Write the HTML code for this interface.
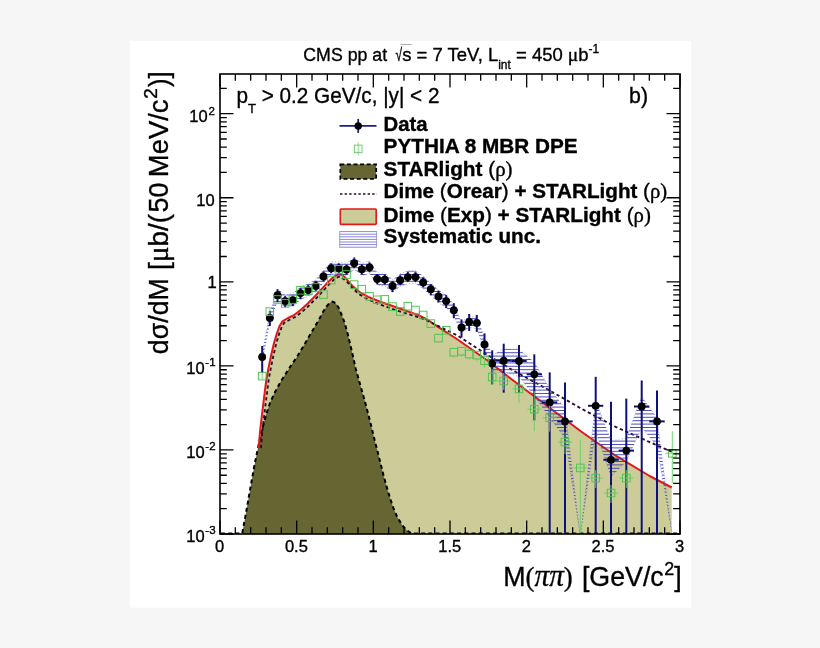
<!DOCTYPE html>
<html><head><meta charset="utf-8"><title>CMS pp at 7 TeV</title>
<style>html,body{margin:0;padding:0}body{width:820px;height:648px;background:#f6f6f6;overflow:hidden;position:relative}svg{position:absolute;left:0;top:0;display:block}text{font-family:"Liberation Sans", sans-serif;fill:#000;stroke:#000;stroke-width:0.35px}.g{font-family:"Liberation Serif", serif}</style></head><body>
<svg width="820" height="648" viewBox="0 0 820 648">
<defs><clipPath id="fr"><rect x="220" y="74" width="460" height="460"/></clipPath>
<clipPath id="band"><polygon points="262.2,352.5 269.8,313.5 277.5,288.9 285.2,294.8 292.8,293.8 300.5,286.8 308.2,283.8 315.8,279.6 323.5,270.2 331.2,262.0 338.8,262.0 346.5,263.2 354.2,256.9 361.8,263.0 369.5,261.0 377.2,272.7 384.8,273.3 392.5,279.7 400.2,273.9 407.8,270.8 415.5,270.8 423.2,276.1 430.8,282.9 438.5,290.2 446.2,294.8 453.8,304.7 461.5,321.9 469.2,316.5 476.8,317.4 484.5,337.4 492.2,354.9 503.7,349.0 519.0,349.3 534.3,362.3 549.7,388.4 565.0,408.4 580.3,536.0 595.7,400.8 611.0,440.8 626.3,438.1 641.7,396.5 657.0,417.9 672.3,536.0 672.3,536.0 657.0,446.4 641.7,427.5 626.3,461.6 611.0,476.8 595.7,431.8 580.3,536.0 565.0,438.4 549.7,417.4 534.3,396.3 519.0,376.5 503.7,372.2 492.2,371.9 484.5,351.4 476.8,328.4 469.2,327.5 461.5,332.9 453.8,315.7 446.2,307.4 438.5,302.8 430.8,295.5 423.2,288.7 415.5,283.4 407.8,283.4 400.2,286.5 392.5,292.3 384.8,285.9 377.2,285.3 369.5,273.6 361.8,275.6 354.2,269.5 346.5,275.8 338.8,274.6 331.2,274.6 323.5,282.8 315.8,292.2 308.2,296.4 300.5,299.4 292.8,306.4 285.2,307.4 277.5,301.5 269.8,322.5 262.2,361.5"/></clipPath>
</defs>
<rect x="130" y="41" width="561" height="566.7" fill="#fff"/>
<g clip-path="url(#fr)">
<polygon points="258.6,534.0 258.6,448.0 260.0,432.0 261.7,417.0 264.0,398.0 266.3,380.0 268.5,368.0 271.0,356.0 274.0,343.0 277.0,333.0 279.6,326.0 282.4,321.3 288.0,318.0 294.4,314.8 300.0,310.5 305.6,305.6 311.0,300.2 316.7,294.4 322.0,288.6 327.8,282.4 332.0,278.3 335.2,276.0 338.0,274.6 340.5,274.2 342.5,275.0 344.4,276.9 347.0,279.6 350.0,283.3 353.0,286.5 356.6,289.6 360.0,292.3 368.3,296.8 379.5,301.5 399.0,308.3 418.5,315.1 428.0,320.0 438.0,326.8 457.6,339.5 477.1,353.2 486.8,360.0 513.9,381.0 547.9,406.5 581.8,432.0 615.7,455.7 649.6,476.0 671.7,487.5 671.7,534.0" fill="#cccc99"/>
<polygon points="242.2,534.0 246.0,513.0 250.9,485.0 254.5,465.0 258.6,445.0 262.5,428.0 266.3,414.0 270.0,403.0 274.0,394.0 278.0,386.5 281.7,380.0 290.7,366.0 297.2,356.5 305.6,342.6 312.0,331.5 318.5,320.4 323.0,312.0 326.5,306.5 329.5,303.0 332.6,301.6 335.5,303.0 338.5,307.5 341.5,314.5 344.4,322.0 348.0,335.0 352.0,352.0 355.8,369.0 360.0,384.0 365.0,401.7 370.0,421.0 374.3,438.8 379.0,457.0 383.6,475.8 388.0,491.5 392.8,506.7 397.0,516.5 402.1,525.0 406.5,530.0 411.4,534.0" fill="#666633"/>
<polyline points="221.0,533.4 242.2,533.4 246.0,513.0 250.9,485.0 254.5,465.0 258.6,445.0 262.5,428.0 266.3,414.0 270.0,403.0 274.0,394.0 278.0,386.5 281.7,380.0 290.7,366.0 297.2,356.5 305.6,342.6 312.0,331.5 318.5,320.4 323.0,312.0 326.5,306.5 329.5,303.0 332.6,301.6 335.5,303.0 338.5,307.5 341.5,314.5 344.4,322.0 348.0,335.0 352.0,352.0 355.8,369.0 360.0,384.0 365.0,401.7 370.0,421.0 374.3,438.8 379.0,457.0 383.6,475.8 388.0,491.5 392.8,506.7 397.0,516.5 402.1,525.0 406.5,530.0 411.4,533.4 679.0,533.4" fill="none" stroke="#000" stroke-width="2" stroke-dasharray="4 3.2"/>
<polyline points="258.6,448.0 260.0,432.0 261.7,417.0 264.0,398.0 266.3,380.0 268.5,368.0 271.0,356.0 274.0,343.0 277.0,333.0 279.6,326.0 282.4,321.3 288.0,318.0 294.4,314.8 300.0,310.5 305.6,305.6 311.0,300.2 316.7,294.4 322.0,288.6 327.8,282.4 332.0,278.3 335.2,276.0 338.0,274.6 340.5,274.2 342.5,275.0 344.4,276.9 347.0,279.6 350.0,283.3 353.0,286.5 356.6,289.6 360.0,292.3 368.3,296.8 379.5,301.5 399.0,308.3 418.5,315.1 428.0,320.0 438.0,326.8 457.6,339.5 477.1,353.2 486.8,360.0 513.9,381.0 547.9,406.5 581.8,432.0 615.7,455.7 649.6,476.0 671.7,487.5" fill="none" stroke="#e01818" stroke-width="2" stroke-linejoin="round"/>
<polyline points="260.9,448.2 262.3,432.2 264.0,417.3 266.3,398.3 268.6,380.3 270.8,368.4 273.2,356.5 276.2,343.6 279.2,333.7 281.7,327.0 284.0,323.0 289.1,320.0 295.6,316.8 301.5,312.3 307.2,307.3 312.6,301.8 318.4,296.0 323.7,290.2 329.5,284.0 333.5,280.0 336.4,278.0 338.7,276.8 340.3,276.5 341.2,276.9 342.8,278.5 347.0,281.8 350.0,285.5 353.0,288.8 356.6,292.0 360.0,294.8 368.3,299.6 379.5,304.4 399.0,311.2 418.5,317.1 428.0,321.0 438.0,325.9 457.6,335.6 477.1,348.3 486.8,354.6 513.9,370.9 547.9,389.5 581.8,408.9 615.7,426.9 649.6,442.1 671.7,451.8" fill="none" stroke="#2c082e" stroke-width="1.8" stroke-dasharray="3.3 2.7"/>
<g clip-path="url(#band)" stroke="#3a3ab0" stroke-width="0.9">
<line x1="255" x2="676" y1="240.5" y2="240.5"/>
<line x1="255" x2="676" y1="243.9" y2="243.9"/>
<line x1="255" x2="676" y1="247.3" y2="247.3"/>
<line x1="255" x2="676" y1="250.7" y2="250.7"/>
<line x1="255" x2="676" y1="254.1" y2="254.1"/>
<line x1="255" x2="676" y1="257.5" y2="257.5"/>
<line x1="255" x2="676" y1="260.9" y2="260.9"/>
<line x1="255" x2="676" y1="264.3" y2="264.3"/>
<line x1="255" x2="676" y1="267.7" y2="267.7"/>
<line x1="255" x2="676" y1="271.1" y2="271.1"/>
<line x1="255" x2="676" y1="274.5" y2="274.5"/>
<line x1="255" x2="676" y1="277.9" y2="277.9"/>
<line x1="255" x2="676" y1="281.3" y2="281.3"/>
<line x1="255" x2="676" y1="284.7" y2="284.7"/>
<line x1="255" x2="676" y1="288.1" y2="288.1"/>
<line x1="255" x2="676" y1="291.5" y2="291.5"/>
<line x1="255" x2="676" y1="294.9" y2="294.9"/>
<line x1="255" x2="676" y1="298.3" y2="298.3"/>
<line x1="255" x2="676" y1="301.7" y2="301.7"/>
<line x1="255" x2="676" y1="305.1" y2="305.1"/>
<line x1="255" x2="676" y1="308.5" y2="308.5"/>
<line x1="255" x2="676" y1="311.9" y2="311.9"/>
<line x1="255" x2="676" y1="315.3" y2="315.3"/>
<line x1="255" x2="676" y1="318.7" y2="318.7"/>
<line x1="255" x2="676" y1="322.1" y2="322.1"/>
<line x1="255" x2="676" y1="325.5" y2="325.5"/>
<line x1="255" x2="676" y1="328.9" y2="328.9"/>
<line x1="255" x2="676" y1="332.3" y2="332.3"/>
<line x1="255" x2="676" y1="335.7" y2="335.7"/>
<line x1="255" x2="676" y1="339.1" y2="339.1"/>
<line x1="255" x2="676" y1="342.5" y2="342.5"/>
<line x1="255" x2="676" y1="345.9" y2="345.9"/>
<line x1="255" x2="676" y1="349.3" y2="349.3"/>
<line x1="255" x2="676" y1="352.7" y2="352.7"/>
<line x1="255" x2="676" y1="356.1" y2="356.1"/>
<line x1="255" x2="676" y1="359.5" y2="359.5"/>
<line x1="255" x2="676" y1="362.9" y2="362.9"/>
<line x1="255" x2="676" y1="366.3" y2="366.3"/>
<line x1="255" x2="676" y1="369.7" y2="369.7"/>
<line x1="255" x2="676" y1="373.1" y2="373.1"/>
<line x1="255" x2="676" y1="376.5" y2="376.5"/>
<line x1="255" x2="676" y1="379.9" y2="379.9"/>
<line x1="255" x2="676" y1="383.3" y2="383.3"/>
<line x1="255" x2="676" y1="386.7" y2="386.7"/>
<line x1="255" x2="676" y1="390.1" y2="390.1"/>
<line x1="255" x2="676" y1="393.5" y2="393.5"/>
<line x1="255" x2="676" y1="396.9" y2="396.9"/>
<line x1="255" x2="676" y1="400.3" y2="400.3"/>
<line x1="255" x2="676" y1="403.7" y2="403.7"/>
<line x1="255" x2="676" y1="407.1" y2="407.1"/>
<line x1="255" x2="676" y1="410.5" y2="410.5"/>
<line x1="255" x2="676" y1="413.9" y2="413.9"/>
<line x1="255" x2="676" y1="417.3" y2="417.3"/>
<line x1="255" x2="676" y1="420.7" y2="420.7"/>
<line x1="255" x2="676" y1="424.1" y2="424.1"/>
<line x1="255" x2="676" y1="427.5" y2="427.5"/>
<line x1="255" x2="676" y1="430.9" y2="430.9"/>
<line x1="255" x2="676" y1="434.3" y2="434.3"/>
<line x1="255" x2="676" y1="437.7" y2="437.7"/>
<line x1="255" x2="676" y1="441.1" y2="441.1"/>
<line x1="255" x2="676" y1="444.5" y2="444.5"/>
<line x1="255" x2="676" y1="447.9" y2="447.9"/>
<line x1="255" x2="676" y1="451.3" y2="451.3"/>
<line x1="255" x2="676" y1="454.7" y2="454.7"/>
<line x1="255" x2="676" y1="458.1" y2="458.1"/>
<line x1="255" x2="676" y1="461.5" y2="461.5"/>
<line x1="255" x2="676" y1="464.9" y2="464.9"/>
<line x1="255" x2="676" y1="468.3" y2="468.3"/>
<line x1="255" x2="676" y1="471.7" y2="471.7"/>
<line x1="255" x2="676" y1="475.1" y2="475.1"/>
<line x1="255" x2="676" y1="478.5" y2="478.5"/>
<line x1="255" x2="676" y1="481.9" y2="481.9"/>
<line x1="255" x2="676" y1="485.3" y2="485.3"/>
<line x1="255" x2="676" y1="488.7" y2="488.7"/>
<line x1="255" x2="676" y1="492.1" y2="492.1"/>
<line x1="255" x2="676" y1="495.5" y2="495.5"/>
<line x1="255" x2="676" y1="498.9" y2="498.9"/>
<line x1="255" x2="676" y1="502.3" y2="502.3"/>
<line x1="255" x2="676" y1="505.7" y2="505.7"/>
<line x1="255" x2="676" y1="509.1" y2="509.1"/>
<line x1="255" x2="676" y1="512.5" y2="512.5"/>
<line x1="255" x2="676" y1="515.9" y2="515.9"/>
<line x1="255" x2="676" y1="519.3" y2="519.3"/>
<line x1="255" x2="676" y1="522.7" y2="522.7"/>
<line x1="255" x2="676" y1="526.1" y2="526.1"/>
<line x1="255" x2="676" y1="529.5" y2="529.5"/>
<line x1="255" x2="676" y1="532.9" y2="532.9"/>
<line x1="255" x2="676" y1="536.3" y2="536.3"/>
<line x1="255" x2="676" y1="539.7" y2="539.7"/>
</g>
<polyline points="262.2,352.5 269.8,313.5 277.5,288.9 285.2,294.8 292.8,293.8 300.5,286.8 308.2,283.8 315.8,279.6 323.5,270.2 331.2,262.0 338.8,262.0 346.5,263.2 354.2,256.9 361.8,263.0 369.5,261.0 377.2,272.7 384.8,273.3 392.5,279.7 400.2,273.9 407.8,270.8 415.5,270.8 423.2,276.1 430.8,282.9 438.5,290.2 446.2,294.8 453.8,304.7 461.5,321.9 469.2,316.5 476.8,317.4 484.5,337.4 492.2,354.9 503.7,349.0 519.0,349.3 534.3,362.3 549.7,388.4 565.0,408.4 580.3,536.0 595.7,400.8 611.0,440.8 626.3,438.1 641.7,396.5 657.0,417.9 672.3,536.0" fill="none" stroke="#6868c8" stroke-opacity="0.75" stroke-width="0.7" stroke-dasharray="1 2.2"/>
<polyline points="262.2,361.5 269.8,322.5 277.5,301.5 285.2,307.4 292.8,306.4 300.5,299.4 308.2,296.4 315.8,292.2 323.5,282.8 331.2,274.6 338.8,274.6 346.5,275.8 354.2,269.5 361.8,275.6 369.5,273.6 377.2,285.3 384.8,285.9 392.5,292.3 400.2,286.5 407.8,283.4 415.5,283.4 423.2,288.7 430.8,295.5 438.5,302.8 446.2,307.4 453.8,315.7 461.5,332.9 469.2,327.5 476.8,328.4 484.5,351.4 492.2,371.9 503.7,372.2 519.0,376.5 534.3,396.3 549.7,417.4 565.0,438.4 580.3,536.0 595.7,431.8 611.0,476.8 626.3,461.6 641.7,427.5 657.0,446.4 672.3,536.0" fill="none" stroke="#6868c8" stroke-opacity="0.75" stroke-width="0.7" stroke-dasharray="1 2.2"/>
<line x1="262.2" x2="262.2" y1="346.0" y2="373.0" stroke="#10107a" stroke-width="2"/>
<line x1="258.3" x2="266.0" y1="357.0" y2="357.0" stroke="#10107a" stroke-width="2"/>
<line x1="269.8" x2="269.8" y1="311.0" y2="326.0" stroke="#10107a" stroke-width="2"/>
<line x1="266.0" x2="273.7" y1="318.0" y2="318.0" stroke="#10107a" stroke-width="2"/>
<line x1="277.5" x2="277.5" y1="289.2" y2="302.2" stroke="#10107a" stroke-width="2"/>
<line x1="273.7" x2="281.3" y1="295.2" y2="295.2" stroke="#10107a" stroke-width="2"/>
<line x1="285.2" x2="285.2" y1="296.1" y2="307.1" stroke="#10107a" stroke-width="2"/>
<line x1="281.3" x2="289.0" y1="301.1" y2="301.1" stroke="#10107a" stroke-width="2"/>
<line x1="292.8" x2="292.8" y1="295.1" y2="306.1" stroke="#10107a" stroke-width="2"/>
<line x1="289.0" x2="296.7" y1="300.1" y2="300.1" stroke="#10107a" stroke-width="2"/>
<line x1="300.5" x2="300.5" y1="288.1" y2="299.1" stroke="#10107a" stroke-width="2"/>
<line x1="296.7" x2="304.3" y1="293.1" y2="293.1" stroke="#10107a" stroke-width="2"/>
<line x1="308.2" x2="308.2" y1="285.1" y2="295.1" stroke="#10107a" stroke-width="2"/>
<line x1="304.3" x2="312.0" y1="290.1" y2="290.1" stroke="#10107a" stroke-width="2"/>
<line x1="315.8" x2="315.8" y1="280.9" y2="290.9" stroke="#10107a" stroke-width="2"/>
<line x1="312.0" x2="319.7" y1="285.9" y2="285.9" stroke="#10107a" stroke-width="2"/>
<line x1="323.5" x2="323.5" y1="271.5" y2="281.5" stroke="#10107a" stroke-width="2"/>
<line x1="319.7" x2="327.3" y1="276.5" y2="276.5" stroke="#10107a" stroke-width="2"/>
<line x1="331.2" x2="331.2" y1="263.3" y2="273.3" stroke="#10107a" stroke-width="2"/>
<line x1="327.3" x2="335.0" y1="268.3" y2="268.3" stroke="#10107a" stroke-width="2"/>
<line x1="338.8" x2="338.8" y1="263.3" y2="273.3" stroke="#10107a" stroke-width="2"/>
<line x1="335.0" x2="342.7" y1="268.3" y2="268.3" stroke="#10107a" stroke-width="2"/>
<line x1="346.5" x2="346.5" y1="264.5" y2="274.5" stroke="#10107a" stroke-width="2"/>
<line x1="342.7" x2="350.3" y1="269.5" y2="269.5" stroke="#10107a" stroke-width="2"/>
<line x1="354.2" x2="354.2" y1="258.2" y2="268.2" stroke="#10107a" stroke-width="2"/>
<line x1="350.3" x2="358.0" y1="263.2" y2="263.2" stroke="#10107a" stroke-width="2"/>
<line x1="361.8" x2="361.8" y1="264.3" y2="274.3" stroke="#10107a" stroke-width="2"/>
<line x1="358.0" x2="365.7" y1="269.3" y2="269.3" stroke="#10107a" stroke-width="2"/>
<line x1="369.5" x2="369.5" y1="262.3" y2="272.3" stroke="#10107a" stroke-width="2"/>
<line x1="365.7" x2="373.3" y1="267.3" y2="267.3" stroke="#10107a" stroke-width="2"/>
<line x1="377.2" x2="377.2" y1="274.0" y2="284.0" stroke="#10107a" stroke-width="2"/>
<line x1="373.3" x2="381.0" y1="279.0" y2="279.0" stroke="#10107a" stroke-width="2"/>
<line x1="384.8" x2="384.8" y1="274.6" y2="284.6" stroke="#10107a" stroke-width="2"/>
<line x1="381.0" x2="388.7" y1="279.6" y2="279.6" stroke="#10107a" stroke-width="2"/>
<line x1="392.5" x2="392.5" y1="281.0" y2="292.0" stroke="#10107a" stroke-width="2"/>
<line x1="388.7" x2="396.3" y1="286.0" y2="286.0" stroke="#10107a" stroke-width="2"/>
<line x1="400.2" x2="400.2" y1="275.2" y2="285.2" stroke="#10107a" stroke-width="2"/>
<line x1="396.3" x2="404.0" y1="280.2" y2="280.2" stroke="#10107a" stroke-width="2"/>
<line x1="407.8" x2="407.8" y1="272.1" y2="282.1" stroke="#10107a" stroke-width="2"/>
<line x1="404.0" x2="411.7" y1="277.1" y2="277.1" stroke="#10107a" stroke-width="2"/>
<line x1="415.5" x2="415.5" y1="272.1" y2="282.1" stroke="#10107a" stroke-width="2"/>
<line x1="411.7" x2="419.3" y1="277.1" y2="277.1" stroke="#10107a" stroke-width="2"/>
<line x1="423.2" x2="423.2" y1="277.4" y2="287.4" stroke="#10107a" stroke-width="2"/>
<line x1="419.3" x2="427.0" y1="282.4" y2="282.4" stroke="#10107a" stroke-width="2"/>
<line x1="430.8" x2="430.8" y1="284.2" y2="295.2" stroke="#10107a" stroke-width="2"/>
<line x1="427.0" x2="434.7" y1="289.2" y2="289.2" stroke="#10107a" stroke-width="2"/>
<line x1="438.5" x2="438.5" y1="290.5" y2="302.5" stroke="#10107a" stroke-width="2"/>
<line x1="434.7" x2="442.3" y1="296.5" y2="296.5" stroke="#10107a" stroke-width="2"/>
<line x1="446.2" x2="446.2" y1="295.1" y2="308.1" stroke="#10107a" stroke-width="2"/>
<line x1="442.3" x2="450.0" y1="301.1" y2="301.1" stroke="#10107a" stroke-width="2"/>
<line x1="453.8" x2="453.8" y1="303.2" y2="318.2" stroke="#10107a" stroke-width="2"/>
<line x1="450.0" x2="457.7" y1="310.2" y2="310.2" stroke="#10107a" stroke-width="2"/>
<line x1="461.5" x2="461.5" y1="319.4" y2="337.4" stroke="#10107a" stroke-width="2"/>
<line x1="457.7" x2="465.3" y1="327.4" y2="327.4" stroke="#10107a" stroke-width="2"/>
<line x1="469.2" x2="469.2" y1="314.0" y2="331.0" stroke="#10107a" stroke-width="2"/>
<line x1="465.3" x2="473.0" y1="322.0" y2="322.0" stroke="#10107a" stroke-width="2"/>
<line x1="476.8" x2="476.8" y1="314.9" y2="331.9" stroke="#10107a" stroke-width="2"/>
<line x1="473.0" x2="480.7" y1="322.9" y2="322.9" stroke="#10107a" stroke-width="2"/>
<line x1="484.5" x2="484.5" y1="333.4" y2="355.4" stroke="#10107a" stroke-width="2"/>
<line x1="480.7" x2="488.3" y1="344.4" y2="344.4" stroke="#10107a" stroke-width="2"/>
<line x1="492.2" x2="492.2" y1="350.4" y2="384.4" stroke="#10107a" stroke-width="2"/>
<line x1="488.3" x2="496.0" y1="363.4" y2="363.4" stroke="#10107a" stroke-width="2"/>
<line x1="503.7" x2="503.7" y1="343.7" y2="392.7" stroke="#10107a" stroke-width="2"/>
<line x1="496.0" x2="511.3" y1="360.7" y2="360.7" stroke="#10107a" stroke-width="2"/>
<line x1="519.0" x2="519.0" y1="345.0" y2="393.0" stroke="#10107a" stroke-width="2"/>
<line x1="511.3" x2="526.7" y1="361.0" y2="361.0" stroke="#10107a" stroke-width="2"/>
<line x1="534.3" x2="534.3" y1="354.3" y2="420.3" stroke="#10107a" stroke-width="2"/>
<line x1="526.7" x2="542.0" y1="374.3" y2="374.3" stroke="#10107a" stroke-width="2"/>
<line x1="549.7" x2="549.7" y1="372.4" y2="534.0" stroke="#10107a" stroke-width="2"/>
<line x1="542.0" x2="557.3" y1="402.4" y2="402.4" stroke="#10107a" stroke-width="2"/>
<line x1="565.0" x2="565.0" y1="382.4" y2="534.0" stroke="#10107a" stroke-width="2"/>
<line x1="557.3" x2="572.7" y1="421.4" y2="421.4" stroke="#10107a" stroke-width="2"/>
<line x1="595.7" x2="595.7" y1="376.8" y2="534.0" stroke="#10107a" stroke-width="2"/>
<line x1="588.0" x2="603.3" y1="405.8" y2="405.8" stroke="#10107a" stroke-width="2"/>
<line x1="611.0" x2="611.0" y1="401.8" y2="534.0" stroke="#10107a" stroke-width="2"/>
<line x1="603.3" x2="618.7" y1="459.8" y2="459.8" stroke="#10107a" stroke-width="2"/>
<line x1="626.3" x2="626.3" y1="398.6" y2="534.0" stroke="#10107a" stroke-width="2"/>
<line x1="618.7" x2="634.0" y1="450.6" y2="450.6" stroke="#10107a" stroke-width="2"/>
<line x1="641.7" x2="641.7" y1="380.5" y2="534.0" stroke="#10107a" stroke-width="2"/>
<line x1="634.0" x2="649.3" y1="406.5" y2="406.5" stroke="#10107a" stroke-width="2"/>
<line x1="657.0" x2="657.0" y1="390.4" y2="534.0" stroke="#10107a" stroke-width="2"/>
<line x1="649.3" x2="664.7" y1="421.4" y2="421.4" stroke="#10107a" stroke-width="2"/>
<circle cx="262.2" cy="357.0" r="3.9" fill="#000"/>
<circle cx="269.8" cy="318.0" r="3.9" fill="#000"/>
<circle cx="277.5" cy="295.2" r="3.9" fill="#000"/>
<circle cx="285.2" cy="301.1" r="3.9" fill="#000"/>
<circle cx="292.8" cy="300.1" r="3.9" fill="#000"/>
<circle cx="300.5" cy="293.1" r="3.9" fill="#000"/>
<circle cx="308.2" cy="290.1" r="3.9" fill="#000"/>
<circle cx="315.8" cy="285.9" r="3.9" fill="#000"/>
<circle cx="323.5" cy="276.5" r="3.9" fill="#000"/>
<circle cx="331.2" cy="268.3" r="3.9" fill="#000"/>
<circle cx="338.8" cy="268.3" r="3.9" fill="#000"/>
<circle cx="346.5" cy="269.5" r="3.9" fill="#000"/>
<circle cx="354.2" cy="263.2" r="3.9" fill="#000"/>
<circle cx="361.8" cy="269.3" r="3.9" fill="#000"/>
<circle cx="369.5" cy="267.3" r="3.9" fill="#000"/>
<circle cx="377.2" cy="279.0" r="3.9" fill="#000"/>
<circle cx="384.8" cy="279.6" r="3.9" fill="#000"/>
<circle cx="392.5" cy="286.0" r="3.9" fill="#000"/>
<circle cx="400.2" cy="280.2" r="3.9" fill="#000"/>
<circle cx="407.8" cy="277.1" r="3.9" fill="#000"/>
<circle cx="415.5" cy="277.1" r="3.9" fill="#000"/>
<circle cx="423.2" cy="282.4" r="3.9" fill="#000"/>
<circle cx="430.8" cy="289.2" r="3.9" fill="#000"/>
<circle cx="438.5" cy="296.5" r="3.9" fill="#000"/>
<circle cx="446.2" cy="301.1" r="3.9" fill="#000"/>
<circle cx="453.8" cy="310.2" r="3.9" fill="#000"/>
<circle cx="461.5" cy="327.4" r="3.9" fill="#000"/>
<circle cx="469.2" cy="322.0" r="3.9" fill="#000"/>
<circle cx="476.8" cy="322.9" r="3.9" fill="#000"/>
<circle cx="484.5" cy="344.4" r="3.9" fill="#000"/>
<circle cx="492.2" cy="363.4" r="3.9" fill="#000"/>
<circle cx="503.7" cy="360.7" r="3.9" fill="#000"/>
<circle cx="519.0" cy="361.0" r="3.9" fill="#000"/>
<circle cx="534.3" cy="374.3" r="3.9" fill="#000"/>
<circle cx="549.7" cy="402.4" r="3.9" fill="#000"/>
<circle cx="565.0" cy="421.4" r="3.9" fill="#000"/>
<circle cx="595.7" cy="405.8" r="3.9" fill="#000"/>
<circle cx="611.0" cy="459.8" r="3.9" fill="#000"/>
<circle cx="626.3" cy="450.6" r="3.9" fill="#000"/>
<circle cx="641.7" cy="406.5" r="3.9" fill="#000"/>
<circle cx="657.0" cy="421.4" r="3.9" fill="#000"/>
<line x1="262.2" x2="262.2" y1="373.1" y2="379.1" stroke="#66d066" stroke-width="0.9"/>
<rect x="258.4" y="372.3" width="7.6" height="7.6" fill="none" stroke="#4cc44c" stroke-width="0.95"/>
<line x1="269.8" x2="269.8" y1="308.6" y2="314.6" stroke="#66d066" stroke-width="0.9"/>
<rect x="266.0" y="307.8" width="7.6" height="7.6" fill="none" stroke="#4cc44c" stroke-width="0.95"/>
<rect x="273.7" y="295.7" width="7.6" height="7.6" fill="none" stroke="#4cc44c" stroke-width="0.95"/>
<rect x="281.4" y="299.6" width="7.6" height="7.6" fill="none" stroke="#4cc44c" stroke-width="0.95"/>
<rect x="289.0" y="295.7" width="7.6" height="7.6" fill="none" stroke="#4cc44c" stroke-width="0.95"/>
<rect x="296.7" y="286.5" width="7.6" height="7.6" fill="none" stroke="#4cc44c" stroke-width="0.95"/>
<rect x="304.4" y="287.2" width="7.6" height="7.6" fill="none" stroke="#4cc44c" stroke-width="0.95"/>
<rect x="312.0" y="283.7" width="7.6" height="7.6" fill="none" stroke="#4cc44c" stroke-width="0.95"/>
<rect x="319.7" y="290.8" width="7.6" height="7.6" fill="none" stroke="#4cc44c" stroke-width="0.95"/>
<rect x="327.4" y="276.2" width="7.6" height="7.6" fill="none" stroke="#4cc44c" stroke-width="0.95"/>
<rect x="335.0" y="265.5" width="7.6" height="7.6" fill="none" stroke="#4cc44c" stroke-width="0.95"/>
<rect x="342.7" y="270.7" width="7.6" height="7.6" fill="none" stroke="#4cc44c" stroke-width="0.95"/>
<rect x="350.4" y="280.8" width="7.6" height="7.6" fill="none" stroke="#4cc44c" stroke-width="0.95"/>
<rect x="358.0" y="285.4" width="7.6" height="7.6" fill="none" stroke="#4cc44c" stroke-width="0.95"/>
<rect x="365.7" y="292.6" width="7.6" height="7.6" fill="none" stroke="#4cc44c" stroke-width="0.95"/>
<rect x="373.4" y="296.0" width="7.6" height="7.6" fill="none" stroke="#4cc44c" stroke-width="0.95"/>
<rect x="381.0" y="295.6" width="7.6" height="7.6" fill="none" stroke="#4cc44c" stroke-width="0.95"/>
<rect x="388.7" y="302.8" width="7.6" height="7.6" fill="none" stroke="#4cc44c" stroke-width="0.95"/>
<rect x="396.4" y="307.7" width="7.6" height="7.6" fill="none" stroke="#4cc44c" stroke-width="0.95"/>
<rect x="404.0" y="302.4" width="7.6" height="7.6" fill="none" stroke="#4cc44c" stroke-width="0.95"/>
<rect x="411.7" y="306.2" width="7.6" height="7.6" fill="none" stroke="#4cc44c" stroke-width="0.95"/>
<rect x="419.4" y="311.2" width="7.6" height="7.6" fill="none" stroke="#4cc44c" stroke-width="0.95"/>
<rect x="427.0" y="319.8" width="7.6" height="7.6" fill="none" stroke="#4cc44c" stroke-width="0.95"/>
<rect x="434.7" y="334.3" width="7.6" height="7.6" fill="none" stroke="#4cc44c" stroke-width="0.95"/>
<rect x="442.4" y="326.5" width="7.6" height="7.6" fill="none" stroke="#4cc44c" stroke-width="0.95"/>
<line x1="453.8" x2="453.8" y1="356.0" y2="357.7" stroke="#66d066" stroke-width="0.9"/>
<rect x="450.0" y="348.4" width="7.6" height="7.6" fill="none" stroke="#4cc44c" stroke-width="0.95"/>
<line x1="461.5" x2="461.5" y1="355.0" y2="356.7" stroke="#66d066" stroke-width="0.9"/>
<rect x="457.7" y="347.4" width="7.6" height="7.6" fill="none" stroke="#4cc44c" stroke-width="0.95"/>
<line x1="469.2" x2="469.2" y1="357.9" y2="359.6" stroke="#66d066" stroke-width="0.9"/>
<rect x="465.4" y="350.3" width="7.6" height="7.6" fill="none" stroke="#4cc44c" stroke-width="0.95"/>
<line x1="476.8" x2="476.8" y1="358.9" y2="361.1" stroke="#66d066" stroke-width="0.9"/>
<rect x="473.0" y="351.3" width="7.6" height="7.6" fill="none" stroke="#4cc44c" stroke-width="0.95"/>
<line x1="484.5" x2="484.5" y1="356.7" y2="367.7" stroke="#66d066" stroke-width="0.9"/>
<rect x="480.7" y="356.9" width="7.6" height="7.6" fill="none" stroke="#4cc44c" stroke-width="0.95"/>
<line x1="492.2" x2="492.2" y1="369.0" y2="385.0" stroke="#66d066" stroke-width="0.9"/>
<rect x="488.4" y="373.2" width="7.6" height="7.6" fill="none" stroke="#4cc44c" stroke-width="0.95"/>
<line x1="503.7" x2="503.7" y1="373.0" y2="390.0" stroke="#66d066" stroke-width="0.9"/>
<line x1="496.7" x2="510.7" y1="381.0" y2="381.0" stroke="#66d066" stroke-width="0.9"/>
<rect x="499.9" y="377.2" width="7.6" height="7.6" fill="none" stroke="#4cc44c" stroke-width="0.95"/>
<line x1="519.0" x2="519.0" y1="376.9" y2="402.9" stroke="#66d066" stroke-width="0.9"/>
<line x1="512.0" x2="526.0" y1="388.9" y2="388.9" stroke="#66d066" stroke-width="0.9"/>
<rect x="515.2" y="385.1" width="7.6" height="7.6" fill="none" stroke="#4cc44c" stroke-width="0.95"/>
<line x1="534.3" x2="534.3" y1="391.2" y2="431.2" stroke="#66d066" stroke-width="0.9"/>
<line x1="527.3" x2="541.3" y1="409.2" y2="409.2" stroke="#66d066" stroke-width="0.9"/>
<rect x="530.5" y="405.4" width="7.6" height="7.6" fill="none" stroke="#4cc44c" stroke-width="0.95"/>
<line x1="549.7" x2="549.7" y1="405.7" y2="431.7" stroke="#66d066" stroke-width="0.9"/>
<line x1="542.7" x2="556.7" y1="417.7" y2="417.7" stroke="#66d066" stroke-width="0.9"/>
<rect x="545.9" y="413.9" width="7.6" height="7.6" fill="none" stroke="#4cc44c" stroke-width="0.95"/>
<line x1="565.0" x2="565.0" y1="432.1" y2="454.1" stroke="#66d066" stroke-width="0.9"/>
<line x1="558.0" x2="572.0" y1="442.1" y2="442.1" stroke="#66d066" stroke-width="0.9"/>
<rect x="561.2" y="438.3" width="7.6" height="7.6" fill="none" stroke="#4cc44c" stroke-width="0.95"/>
<line x1="580.3" x2="580.3" y1="439.9" y2="533.9" stroke="#66d066" stroke-width="0.9"/>
<line x1="573.3" x2="587.3" y1="467.9" y2="467.9" stroke="#66d066" stroke-width="0.9"/>
<rect x="576.5" y="464.1" width="7.6" height="7.6" fill="none" stroke="#4cc44c" stroke-width="0.95"/>
<line x1="595.7" x2="595.7" y1="470.1" y2="488.1" stroke="#66d066" stroke-width="0.9"/>
<line x1="588.7" x2="602.7" y1="478.1" y2="478.1" stroke="#66d066" stroke-width="0.9"/>
<rect x="591.9" y="474.3" width="7.6" height="7.6" fill="none" stroke="#4cc44c" stroke-width="0.95"/>
<line x1="611.0" x2="611.0" y1="485.0" y2="503.0" stroke="#66d066" stroke-width="0.9"/>
<line x1="604.0" x2="618.0" y1="493.0" y2="493.0" stroke="#66d066" stroke-width="0.9"/>
<rect x="607.2" y="489.2" width="7.6" height="7.6" fill="none" stroke="#4cc44c" stroke-width="0.95"/>
<line x1="626.3" x2="626.3" y1="470.1" y2="488.1" stroke="#66d066" stroke-width="0.9"/>
<line x1="619.3" x2="633.3" y1="478.1" y2="478.1" stroke="#66d066" stroke-width="0.9"/>
<rect x="622.5" y="474.3" width="7.6" height="7.6" fill="none" stroke="#4cc44c" stroke-width="0.95"/>
<line x1="672.3" x2="672.3" y1="431.3" y2="483.3" stroke="#66d066" stroke-width="0.9"/>
<line x1="665.3" x2="679.3" y1="453.3" y2="453.3" stroke="#66d066" stroke-width="0.9"/>
<rect x="668.5" y="449.5" width="7.6" height="7.6" fill="none" stroke="#4cc44c" stroke-width="0.95"/>
</g>
<path d="M220.00 534.0v-13.5M220.00 74.0v13.5M235.33 534.0v-6.8M235.33 74.0v6.8M250.67 534.0v-6.8M250.67 74.0v6.8M266.00 534.0v-6.8M266.00 74.0v6.8M281.33 534.0v-6.8M281.33 74.0v6.8M296.67 534.0v-13.5M296.67 74.0v13.5M312.00 534.0v-6.8M312.00 74.0v6.8M327.33 534.0v-6.8M327.33 74.0v6.8M342.67 534.0v-6.8M342.67 74.0v6.8M358.00 534.0v-6.8M358.00 74.0v6.8M373.33 534.0v-13.5M373.33 74.0v13.5M388.67 534.0v-6.8M388.67 74.0v6.8M404.00 534.0v-6.8M404.00 74.0v6.8M419.33 534.0v-6.8M419.33 74.0v6.8M434.67 534.0v-6.8M434.67 74.0v6.8M450.00 534.0v-13.5M450.00 74.0v13.5M465.33 534.0v-6.8M465.33 74.0v6.8M480.67 534.0v-6.8M480.67 74.0v6.8M496.00 534.0v-6.8M496.00 74.0v6.8M511.33 534.0v-6.8M511.33 74.0v6.8M526.67 534.0v-13.5M526.67 74.0v13.5M542.00 534.0v-6.8M542.00 74.0v6.8M557.33 534.0v-6.8M557.33 74.0v6.8M572.67 534.0v-6.8M572.67 74.0v6.8M588.00 534.0v-6.8M588.00 74.0v6.8M603.33 534.0v-13.5M603.33 74.0v13.5M618.67 534.0v-6.8M618.67 74.0v6.8M634.00 534.0v-6.8M634.00 74.0v6.8M649.33 534.0v-6.8M649.33 74.0v6.8M664.67 534.0v-6.8M664.67 74.0v6.8M680.00 534.0v-13.5M680.00 74.0v13.5M220.0 534.00h13.5M680.0 534.00h-13.5M220.0 508.70h6.8M680.0 508.70h-6.8M220.0 493.89h6.8M680.0 493.89h-6.8M220.0 483.39h6.8M680.0 483.39h-6.8M220.0 475.24h6.8M680.0 475.24h-6.8M220.0 468.59h6.8M680.0 468.59h-6.8M220.0 462.96h6.8M680.0 462.96h-6.8M220.0 458.09h6.8M680.0 458.09h-6.8M220.0 453.79h6.8M680.0 453.79h-6.8M220.0 449.94h13.5M680.0 449.94h-13.5M220.0 424.64h6.8M680.0 424.64h-6.8M220.0 409.83h6.8M680.0 409.83h-6.8M220.0 399.33h6.8M680.0 399.33h-6.8M220.0 391.18h6.8M680.0 391.18h-6.8M220.0 384.53h6.8M680.0 384.53h-6.8M220.0 378.90h6.8M680.0 378.90h-6.8M220.0 374.03h6.8M680.0 374.03h-6.8M220.0 369.73h6.8M680.0 369.73h-6.8M220.0 365.88h13.5M680.0 365.88h-13.5M220.0 340.58h6.8M680.0 340.58h-6.8M220.0 325.77h6.8M680.0 325.77h-6.8M220.0 315.27h6.8M680.0 315.27h-6.8M220.0 307.12h6.8M680.0 307.12h-6.8M220.0 300.47h6.8M680.0 300.47h-6.8M220.0 294.84h6.8M680.0 294.84h-6.8M220.0 289.97h6.8M680.0 289.97h-6.8M220.0 285.67h6.8M680.0 285.67h-6.8M220.0 281.82h13.5M680.0 281.82h-13.5M220.0 256.52h6.8M680.0 256.52h-6.8M220.0 241.71h6.8M680.0 241.71h-6.8M220.0 231.21h6.8M680.0 231.21h-6.8M220.0 223.06h6.8M680.0 223.06h-6.8M220.0 216.41h6.8M680.0 216.41h-6.8M220.0 210.78h6.8M680.0 210.78h-6.8M220.0 205.91h6.8M680.0 205.91h-6.8M220.0 201.61h6.8M680.0 201.61h-6.8M220.0 197.76h13.5M680.0 197.76h-13.5M220.0 172.46h6.8M680.0 172.46h-6.8M220.0 157.65h6.8M680.0 157.65h-6.8M220.0 147.15h6.8M680.0 147.15h-6.8M220.0 139.00h6.8M680.0 139.00h-6.8M220.0 132.35h6.8M680.0 132.35h-6.8M220.0 126.72h6.8M680.0 126.72h-6.8M220.0 121.85h6.8M680.0 121.85h-6.8M220.0 117.55h6.8M680.0 117.55h-6.8M220.0 113.70h13.5M680.0 113.70h-13.5M220.0 88.40h6.8M680.0 88.40h-6.8M220.0 88.40h6.8M680.0 88.40h-6.8" stroke="#000" stroke-width="1.3" fill="none"/>
<rect x="220" y="74" width="460" height="460" fill="none" stroke="#000" stroke-width="1.6"/>
<text x="219.7" y="551.6" font-size="16.5" text-anchor="middle">0</text>
<text x="296.4" y="551.6" font-size="16.5" text-anchor="middle">0.5</text>
<text x="373.0" y="551.6" font-size="16.5" text-anchor="middle">1</text>
<text x="449.7" y="551.6" font-size="16.5" text-anchor="middle">1.5</text>
<text x="526.4" y="551.6" font-size="16.5" text-anchor="middle">2</text>
<text x="603.0" y="551.6" font-size="16.5" text-anchor="middle">2.5</text>
<text x="679.7" y="551.6" font-size="16.5" text-anchor="middle">3</text>
<text x="214.8" y="122.4" font-size="16.5" text-anchor="end">10<tspan dx="0.8" dy="-7.2" font-size="11.5">2</tspan></text>
<text x="214.6" y="205.8" font-size="16.5" text-anchor="end">10</text>
<text x="216.8" y="288.2" font-size="16.5" text-anchor="end">1</text>
<text x="215.6" y="373.6" font-size="16.5" text-anchor="end">10<tspan dx="0.8" dy="-7.2" font-size="11.5">-1</tspan></text>
<text x="215.6" y="457.6" font-size="16.5" text-anchor="end">10<tspan dx="0.8" dy="-7.2" font-size="11.5">-2</tspan></text>
<text x="215.6" y="541.6" font-size="16.5" text-anchor="end">10<tspan dx="0.8" dy="-7.2" font-size="11.5">-3</tspan></text>
<text x="303.3" y="60.8" font-size="18.5" textLength="83.8" lengthAdjust="spacingAndGlyphs">CMS pp at</text>
<text x="395.6" y="61.2" font-size="18" textLength="6.6" lengthAdjust="spacingAndGlyphs">√</text>
<path d="M400.6 44.5H411.8" stroke="#999" stroke-width="0.8" fill="none"/>
<text x="402.2" y="60.8" font-size="18.5" textLength="197.0" lengthAdjust="spacingAndGlyphs">s = 7 TeV, L<tspan dy="8" font-size="12">int</tspan><tspan dy="-8"> = 450 </tspan><tspan class="g" font-size="19.5">μ</tspan>b<tspan dy="-7.5" font-size="12">-1</tspan></text>
<text x="236.5" y="102.6" font-size="21.6" textLength="203" lengthAdjust="spacingAndGlyphs">p<tspan dy="10.5" font-size="13.5">T</tspan><tspan dy="-10.5"> &gt; 0.2 GeV/c, |y| &lt; 2</tspan></text>
<text x="629" y="102.6" font-size="21.2" textLength="19.0" lengthAdjust="spacingAndGlyphs">b)</text>
<text x="503.2" y="586.3" font-size="28.3" textLength="178.6" lengthAdjust="spacingAndGlyphs">M<tspan class="g">(</tspan><tspan class="g" font-style="italic" font-size="31">ππ</tspan><tspan class="g">)</tspan> <tspan dx="1.8">[</tspan>GeV/c<tspan dx="0.6" dy="-11" font-size="19">2</tspan><tspan dy="11">]</tspan></text>
<g transform="translate(168.4,353.6) rotate(-90)" font-size="28.3">
<text x="-0.6" y="0" textLength="76.0" lengthAdjust="spacingAndGlyphs" >d<tspan>σ</tspan>/dM</text>
<text x="83.6" y="0" textLength="56.0" lengthAdjust="spacingAndGlyphs" >[<tspan class="g" font-size="30">μ</tspan>b/(</text>
<text x="141.2" y="0" textLength="30.0" lengthAdjust="spacingAndGlyphs" >50</text>
<text x="176.4" y="0" textLength="77.8" lengthAdjust="spacingAndGlyphs" >MeV/c</text>
<text x="254.8" y="-11" font-size="19" textLength="10.6" lengthAdjust="spacingAndGlyphs">2</text>
<text x="266.6" y="0" textLength="15.6" lengthAdjust="spacingAndGlyphs" >)]</text>
</g>
<line x1="339.5" x2="376.5" y1="125.9" y2="125.9" stroke="#1e1e7c" stroke-width="1.8"/>
<line x1="358.2" x2="358.2" y1="118.9" y2="132.9" stroke="#1e1e7c" stroke-width="1.8"/>
<circle cx="358.2" cy="125.9" r="3.7" fill="#000"/>
<line x1="358.2" x2="358.2" y1="142.4" y2="155.4" stroke="#70d070" stroke-width="0.8"/>
<rect x="354.4" y="145.1" width="7.6" height="7.6" fill="none" stroke="#58c858" stroke-width="0.85"/>
<rect x="340.3" y="164.3" width="35.9" height="14.6" fill="#666633" stroke="#000" stroke-width="1.7" stroke-dasharray="4 2.6"/>
<line x1="340" x2="377" y1="193.9" y2="193.9" stroke="#2c082e" stroke-width="1.5" stroke-dasharray="2.4 2.2"/>
<rect x="340.3" y="209" width="35.9" height="15.4" rx="0.8" fill="#cccc99" stroke="#e01818" stroke-width="1.6"/>
<g stroke="#6a6ac6" stroke-width="0.8" fill="none">
<line x1="339.5" x2="376.8" y1="231.6" y2="231.6"/>
<line x1="339.5" x2="376.8" y1="234.2" y2="234.2"/>
<line x1="339.5" x2="376.8" y1="236.8" y2="236.8"/>
<line x1="339.5" x2="376.8" y1="239.4" y2="239.4"/>
<line x1="339.5" x2="376.8" y1="242.0" y2="242.0"/>
<line x1="339.5" x2="376.8" y1="244.6" y2="244.6"/>
<line x1="339.5" x2="376.8" y1="247.2" y2="247.2"/>
<path d="M339.7 231.6V247.2M376.6 231.6V247.2" stroke-width="0.6"/>
</g>
<text x="383.6" y="131.0" font-size="20" font-weight="bold" stroke-width="0.1" textLength="44" lengthAdjust="spacingAndGlyphs">Data</text>
<text x="383.6" y="153.0" font-size="20" font-weight="bold" stroke-width="0.1" textLength="194" lengthAdjust="spacingAndGlyphs">PYTHIA 8 MBR DPE</text>
<text x="383.6" y="176.0" font-size="20" font-weight="bold" stroke-width="0.1" textLength="128.9" lengthAdjust="spacingAndGlyphs">STARlight <tspan font-weight="normal">(</tspan><tspan class="g" font-weight="normal">ρ)</tspan></text>
<text x="383.6" y="197.8" font-size="20" font-weight="bold" stroke-width="0.1" textLength="283.6" lengthAdjust="spacingAndGlyphs">Dime <tspan font-weight="normal">(</tspan>Orear<tspan font-weight="normal">)</tspan> + STARLight <tspan font-weight="normal">(</tspan><tspan class="g" font-weight="normal">ρ)</tspan></text>
<text x="383.6" y="221.8" font-size="20" font-weight="bold" stroke-width="0.1" textLength="267.2" lengthAdjust="spacingAndGlyphs">Dime <tspan font-weight="normal">(</tspan>Exp<tspan font-weight="normal">)</tspan> + STARLight <tspan font-weight="normal">(</tspan><tspan class="g" font-weight="normal">ρ)</tspan></text>
<text x="383.6" y="243.4" font-size="20" font-weight="bold" stroke-width="0.1" textLength="157.4" lengthAdjust="spacingAndGlyphs">Systematic unc.</text>
</svg></body></html>
